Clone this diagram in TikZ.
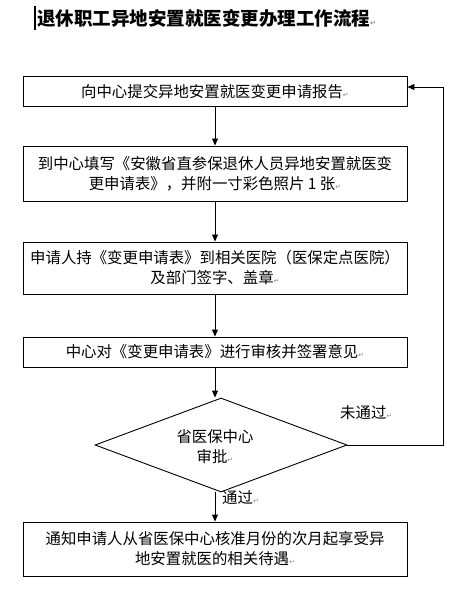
\documentclass[tikz,border=0pt]{standalone}
\usepackage{fontspec}
\setmainfont{Noto Sans CJK SC}
\newfontfamily\dvfont{DejaVu Sans}
\usetikzlibrary{arrows.meta,shapes.geometric}
\newcommand\parmark{{\dvfont\fontsize{7}{7}\selectfont\color{black!45}\raisebox{0pt}{↵}}}
\tikzset{
  box/.style={draw, line width=0.9pt, minimum width=384pt, inner sep=2pt, align=center,
              font=\fontsize{15.4}{20}\selectfont},
  arr/.style={draw, line width=0.9pt, -{Triangle[length=7pt,width=6pt]}},
  lbl/.style={inner sep=0pt, font=\fontsize{15.4}{20}\selectfont},
}
\begin{document}
\begin{tikzpicture}[x=1pt,y=-1pt]
\useasboundingbox[fill=white] (0,0) rectangle (473,593);
% title with cursor bar
\draw[line width=1.3pt] (35,6) -- (35,30);
\node[anchor=west, inner sep=0pt, font=\fontsize{18.5}{20}\selectfont\bfseries] (title) at (37,18)
  {退休职工异地安置就医变更办理工作流程\parmark};
% boxes
\node[box, minimum height=30pt] (b1) at (215,91.5) {向中心提交异地安置就医变更申请报告\parmark};
\node[box, minimum height=55pt] (b2) at (215,173.5) {到中心填写《安徽省直参保退休人员异地安置就医变\\更申请表》，并附一寸彩色照片 1 张\parmark};
\node[box, minimum height=52pt] (b3) at (215,268) {申请人持《变更申请表》到相关医院（医保定点医院）\\及部门签字、盖章\parmark};
\node[box, minimum height=30pt] (b4) at (215,352) {中心对《变更申请表》进行审核并签署意见\parmark};
\node[draw, line width=0.9pt, diamond, shape aspect=2.68, minimum width=252pt, minimum height=94pt, inner sep=0pt] (dia) at (221,445) {};
\node[lbl, align=center] (dtext) at (215,447) {省医保中心\\审批\parmark};
\node[box, minimum height=54pt] (b5) at (215,549) {通知申请人从省医保中心核准月份的次月起享受异\\地安置就医的相关待遇\parmark};
% labels
\node[lbl, anchor=west] (no) at (340,413) {未通过\parmark};
\node[lbl, anchor=west] (yes) at (222,498) {通过\parmark};
% connectors
\draw[arr] (b1.south) -- (b2.north);
\draw[arr] (b2.south) -- (b3.north);
\draw[arr] (b3.south) -- (b4.north);
\draw[arr] (b4.south) -- (b4.south |- dia.north);
\draw[arr] (b5.north |- dia.south) -- (b5.north);
\coordinate (fb) at (443,445);
\draw[arr] (dia.east) -- (fb) |- ([yshift=4.5pt]b1.east);
\end{tikzpicture}
\end{document}
